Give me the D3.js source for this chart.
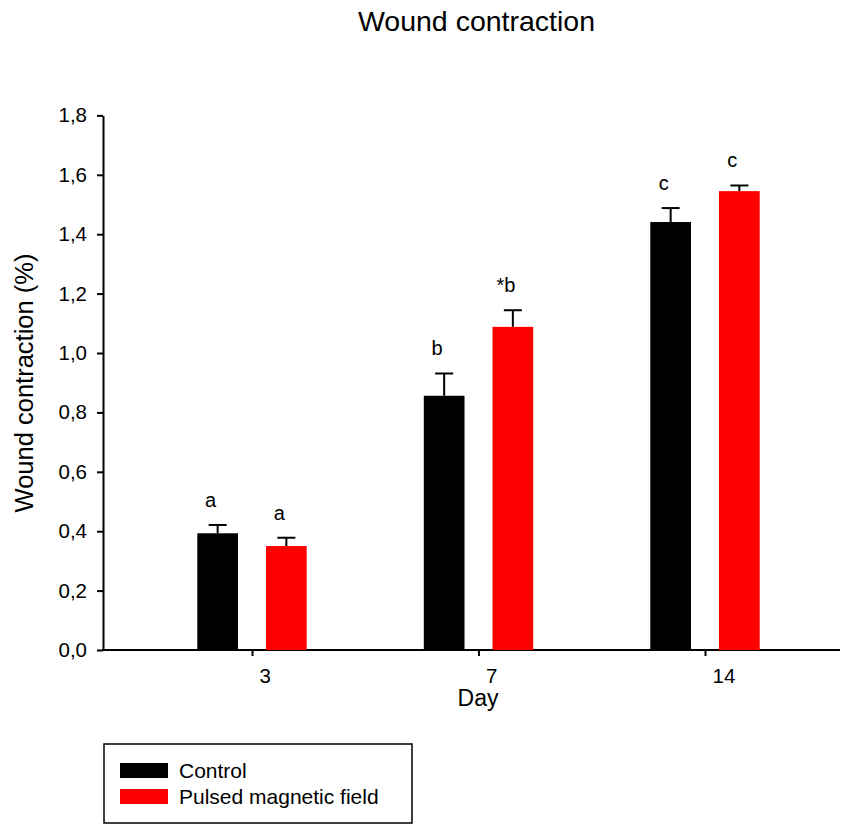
<!DOCTYPE html>
<html>
<head>
<meta charset="utf-8">
<script src="https://cdn.jsdelivr.net/npm/d3@7"></script>
<style>
  html, body { margin: 0; padding: 0; background: #fff; }
  svg { display: block; font-family: "Liberation Sans", Arial, sans-serif; }
</style>
</head>
<body>
<svg id="chart" width="844" height="825"></svg>
<script>
// Wound contraction by day, control vs pulsed magnetic field
const days = ["3", "7", "14"];
const seriesNames = ["Control", "Pulsed magnetic field"];
const controlMeans = [0.393, 0.856, 1.441];
const controlErrors = [0.028, 0.075, 0.047];
const pmfMeans = [0.350, 1.088, 1.545];
const pmfErrors = [0.028, 0.056, 0.019];
const controlLetters = ["a", "b", "c"];
const pmfLetters = ["a", "*b", "c"];
const yTicks = [0, 0.2, 0.4, 0.6, 0.8, 1.0, 1.2, 1.4, 1.6, 1.8];
const colors = ["#000000", "#ff0000"];

const svg = d3.select("#chart");

const plotLeft = 103, plotRight = 840, plotTop = 115.4, plotBottom = 650;

const y = d3.scaleLinear().domain([0, 1.8]).range([plotBottom, plotTop]);
const x0 = d3.scalePoint().domain(days).range([252, 705]);
const x1 = d3.scaleBand().domain(seriesNames).range([-54.7, 54.7]).paddingInner(0.4076);

const rows = days.map((d, i) => ({
  day: d,
  values: [
    { name: seriesNames[0], mean: controlMeans[i], err: controlErrors[i], label: controlLetters[i], color: colors[0] },
    { name: seriesNames[1], mean: pmfMeans[i], err: pmfErrors[i], label: pmfLetters[i], color: colors[1] }
  ]
}));

// Title
svg.append("text")
  .attr("x", 476.5).attr("y", 31)
  .attr("text-anchor", "middle")
  .attr("font-size", 28.5)
  .text("Wound contraction");

// Y axis
const comma = v => d3.format(".1f")(v).replace(".", ",");
const yAxis = svg.append("g")
  .attr("transform", `translate(${plotLeft},0)`)
  .call(d3.axisLeft(y).tickValues(yTicks).tickFormat(comma).tickSize(6).tickSizeOuter(0).tickPadding(10));
yAxis.select(".domain").attr("stroke-width", 2);
yAxis.selectAll(".tick line").attr("stroke-width", 2);
yAxis.selectAll(".tick text").attr("font-size", 20.5).attr("fill", "#000").attr("font-family", "Liberation Sans, Arial, sans-serif");

// X axis
const xAxis = svg.append("g")
  .attr("transform", `translate(0,${plotBottom})`)
  .call(d3.axisBottom(x0).tickSize(6).tickSizeOuter(0).tickPadding(0));
xAxis.select(".domain").remove();
xAxis.append("line")
  .attr("x1", plotLeft - 1).attr("x2", plotRight)
  .attr("y1", 0).attr("y2", 0)
  .attr("stroke", "#000").attr("stroke-width", 2);
xAxis.selectAll(".tick line").attr("stroke-width", 2);
xAxis.selectAll(".tick text")
  .attr("font-size", 20.5).attr("fill", "#000")
  .attr("font-family", "Liberation Sans, Arial, sans-serif")
  .attr("text-anchor", "start")
  .attr("dx", 7).attr("y", 33).attr("dy", 0);

// Axis titles
svg.append("text")
  .attr("x", 478).attr("y", 706)
  .attr("text-anchor", "middle")
  .attr("font-size", 23)
  .text("Day");

svg.append("text")
  .attr("transform", "translate(33,383) rotate(-90)")
  .attr("text-anchor", "middle")
  .attr("font-size", 25.5)
  .text("Wound contraction (%)");

// Bars, error bars and significance letters
const groups = svg.append("g").selectAll("g")
  .data(rows).join("g")
  .attr("transform", d => `translate(${x0(d.day)},0)`);

const items = groups.selectAll("g").data(d => d.values).join("g");

items.append("line")
  .attr("x1", d => x1(d.name) + x1.bandwidth() / 2)
  .attr("x2", d => x1(d.name) + x1.bandwidth() / 2)
  .attr("y1", d => y(d.mean))
  .attr("y2", d => y(d.mean + d.err))
  .attr("stroke", "#000").attr("stroke-width", 2);

items.append("line")
  .attr("x1", d => x1(d.name) + x1.bandwidth() / 2 - 9)
  .attr("x2", d => x1(d.name) + x1.bandwidth() / 2 + 9)
  .attr("y1", d => y(d.mean + d.err))
  .attr("y2", d => y(d.mean + d.err))
  .attr("stroke", "#000").attr("stroke-width", 2);

items.append("rect")
  .attr("x", d => x1(d.name))
  .attr("width", x1.bandwidth())
  .attr("y", d => y(d.mean))
  .attr("height", d => y(0) - y(d.mean))
  .attr("fill", d => d.color);

items.append("text")
  .attr("x", d => x1(d.name) + x1.bandwidth() / 2 - 7)
  .attr("y", d => y(d.mean + d.err) - 18)
  .attr("text-anchor", "middle")
  .attr("font-size", 20)
  .text(d => d.label);

// Legend
const legend = svg.append("g");
legend.append("rect")
  .attr("x", 104).attr("y", 744)
  .attr("width", 308).attr("height", 79)
  .attr("fill", "none").attr("stroke", "#000").attr("stroke-width", 1.5);

const legendItems = legend.selectAll("g.item")
  .data(seriesNames).join("g")
  .attr("class", "item")
  .attr("transform", (d, i) => `translate(0,${i * 26})`);

legendItems.append("rect")
  .attr("x", 120).attr("y", 763)
  .attr("width", 48).attr("height", 15)
  .attr("fill", (d, i) => colors[i]);

legendItems.append("text")
  .attr("x", 179).attr("y", 778)
  .attr("font-size", 21)
  .text(d => d);
</script>
</body>
</html>
